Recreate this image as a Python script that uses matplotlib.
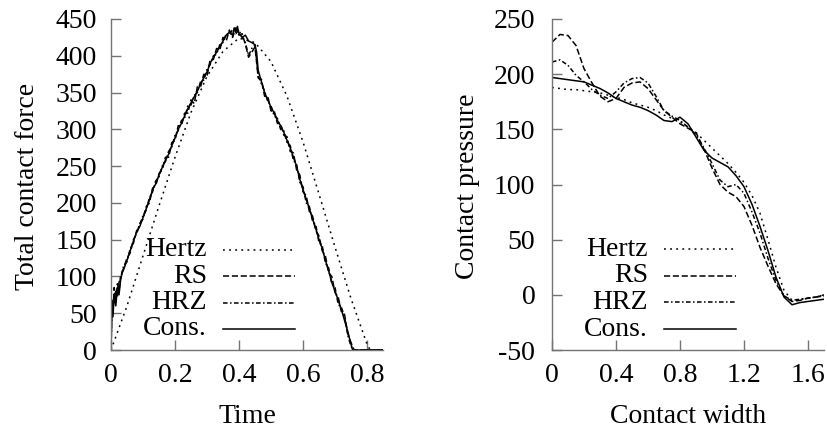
import matplotlib.pyplot as plt

plt.rcParams['font.family'] = ['Liberation Serif', 'DejaVu Serif']
plt.rcParams['font.size'] = 20
plt.rcParams['axes.unicode_minus'] = False
plt.rcParams['lines.dash_capstyle'] = 'butt'

# ---- left panel: total contact force vs time ----
hertzT = [0, 0.05, 0.1, 0.15, 0.2, 0.25, 0.3, 0.35, 0.4, 0.45, 0.5, 0.55,
          0.6, 0.65, 0.7, 0.75, 0.8, 0.81, 0.85]
hertzF = [0, 60, 128, 196, 262, 323, 372, 406, 424, 418, 392, 345,
          283, 212, 140, 70, 8, 0, 0]

consT = [0, 0.003, 0.006, 0.01, 0.015, 0.02, 0.025, 0.03, 0.035, 0.04, 0.05,
         0.06, 0.07, 0.08, 0.09, 0.10, 0.11, 0.12, 0.13, 0.14, 0.15, 0.16,
         0.17, 0.18, 0.19, 0.20, 0.21, 0.22, 0.23, 0.24, 0.25, 0.26, 0.27,
         0.28, 0.29, 0.30, 0.31, 0.32, 0.33, 0.34, 0.35, 0.36, 0.37, 0.38,
         0.385, 0.39, 0.395, 0.40, 0.41, 0.42, 0.43, 0.44, 0.45, 0.455, 0.46,
         0.47, 0.48, 0.49, 0.50, 0.51, 0.52, 0.53, 0.54, 0.55, 0.56, 0.57,
         0.58, 0.59, 0.60, 0.61, 0.62, 0.63, 0.64, 0.65, 0.66, 0.67, 0.68,
         0.69, 0.70, 0.71, 0.72, 0.73, 0.74, 0.75, 0.755, 0.85]
consF = [0, 60, 45, 75, 60, 85, 75, 95, 105, 110, 122,
         135, 148, 160, 168, 180, 192, 204, 218, 226, 238, 248,
         258, 266, 278, 288, 300, 308, 318, 328, 336, 344, 352,
         362, 370, 378, 390, 398, 405, 412, 420, 428, 432, 428,
         438, 432, 440, 430, 425, 428, 420, 418, 415, 405, 380,
         365, 350, 340, 330, 322, 312, 305, 296, 285, 275, 262,
         250, 232, 218, 205, 192, 178, 165, 150, 138, 122, 108,
         92, 80, 68, 55, 40, 25, 8, 0, 0]

rsT = [0, 0.003, 0.006, 0.01, 0.015, 0.02, 0.025, 0.03, 0.04, 0.05, 0.06,
       0.07, 0.08, 0.09, 0.10, 0.11, 0.12, 0.13, 0.14, 0.15, 0.16, 0.17,
       0.18, 0.19, 0.20, 0.21, 0.22, 0.23, 0.24, 0.25, 0.26, 0.27, 0.28,
       0.29, 0.30, 0.31, 0.32, 0.33, 0.34, 0.35, 0.36, 0.37, 0.38, 0.39,
       0.40, 0.41, 0.42, 0.43, 0.44, 0.45, 0.46, 0.47, 0.48, 0.49, 0.50,
       0.51, 0.52, 0.53, 0.54, 0.55, 0.56, 0.57, 0.58, 0.59, 0.60, 0.61,
       0.62, 0.63, 0.64, 0.65, 0.66, 0.67, 0.68, 0.69, 0.70, 0.71, 0.72,
       0.73, 0.74, 0.75, 0.76, 0.85]
rsF = [0, 70, 50, 85, 65, 90, 80, 100, 112, 125, 132,
       150, 158, 172, 178, 195, 200, 220, 224, 240, 245, 262,
       262, 282, 285, 305, 305, 322, 322, 340, 335, 358, 358,
       375, 372, 395, 395, 410, 408, 425, 420, 435, 425, 438,
       428, 430, 415, 398, 405, 412, 370, 368, 345, 345, 325,
       325, 308, 308, 292, 290, 270, 268, 245, 238, 215, 210,
       188, 182, 162, 155, 135, 128, 105, 100, 78, 72, 52,
       48, 22, 10, 0, 0]

hrzT = rsT
hrzF = [0, 55, 65, 70, 80, 72, 92, 98, 115, 120, 138,
        145, 162, 170, 183, 190, 207, 215, 230, 235, 250, 256,
        270, 276, 292, 298, 312, 315, 332, 333, 346, 350, 365,
        367, 382, 388, 400, 402, 415, 418, 430, 428, 436, 430,
        435, 425, 418, 400, 410, 415, 372, 362, 352, 338, 332,
        318, 315, 300, 298, 282, 278, 258, 252, 228, 222, 200,
        195, 175, 170, 146, 142, 118, 112, 90, 85, 62, 58,
        45, 20, 5, 0, 0]

# ---- right panel: contact pressure vs contact width ----
widthX = [0, 0.05, 0.1, 0.15, 0.2, 0.25, 0.3, 0.35, 0.4, 0.45, 0.5, 0.55,
          0.6, 0.65, 0.7, 0.75, 0.8, 0.85, 0.9, 0.95, 1.0, 1.05, 1.1, 1.15,
          1.2, 1.25, 1.3, 1.35, 1.4, 1.45, 1.5, 1.55, 1.6, 1.65, 1.7]
hertzP = [188, 187, 186, 186, 185, 184, 183, 181, 179, 177, 174, 172,
          170, 167, 163, 160, 157, 152, 147, 140, 133, 126, 119, 111,
          102, 90, 74, 50, 25, 4, -5, -4, -3, -2, 0]
rsP = [229, 236, 235, 226, 205, 192, 180, 175, 178, 188, 192, 193,
       187, 177, 167, 161, 155, 151, 147, 132, 115, 100, 93, 89,
       80, 63, 43, 26, 10, -1, -6, -5, -3, -2, 0]
hrzP = [211, 213, 208, 199, 193, 186, 181, 178, 184, 192, 196, 197,
        192, 180, 167, 162, 158, 152, 145, 133, 119, 104, 98, 100,
        92, 75, 56, 33, 13, -1, -5, -4, -3, -2, -1]
consP = [197, 196, 195, 194, 193, 190, 187, 183, 178, 175, 172, 170,
         167, 163, 158, 157, 161, 155, 143, 131, 124, 120, 116, 108,
         98, 82, 62, 40, 16, -2, -9, -7, -6, -5, -4]

labels = ['Hertz', 'RS', 'HRZ', 'Cons.']
styles = [(0, (1.2, 2.8)), (0, (4.0, 1.8)), (0, (3.0, 1.6, 1.0, 1.6)), '-']
axisColor = '0.45'
lineW = 1.1


def styleAxis(ax, pad):
    for side in ['top', 'right']:
        ax.spines[side].set_visible(False)
    for side in ['left', 'bottom']:
        ax.spines[side].set_color(axisColor)
        ax.spines[side].set_linewidth(1.0)
    ax.tick_params(direction='in', length=7, width=1.0, color=axisColor,
                   labelsize=20)
    ax.tick_params(axis='y', pad=pad)
    ax.tick_params(axis='x', pad=9)


def drawLegend(ax, xText, xLine0, xLine1, yTop, dy):
    # gnuplot style key: right aligned text, sample to the right
    for i, (ls, lab) in enumerate(zip(styles, labels)):
        y = yTop - i * dy
        ax.text(xText, y, lab, ha='right', va='center', fontsize=20,
                transform=ax.transAxes)
        ax.plot([xLine0, xLine1], [y, y], color='black', lw=lineW,
                linestyle=ls, transform=ax.transAxes)


fig = plt.figure(figsize=(8.27, 4.32), dpi=100)

ax1 = fig.add_axes([111 / 827, 1 - 350 / 432, 272 / 827, 331 / 432])
for t, f, ls in zip([hertzT, rsT, hrzT, consT], [hertzF, rsF, hrzF, consF], styles):
    ax1.plot(t, f, color='black', lw=lineW, linestyle=ls)
ax1.set_xlim(0, 0.85)
ax1.set_ylim(0, 450)
ax1.set_xticks([0, 0.2, 0.4, 0.6, 0.8])
ax1.set_xticklabels(['0', '0.2', '0.4', '0.6', '0.8'])
ax1.set_yticks(range(0, 451, 50))
styleAxis(ax1, 10)
ax1.set_xlabel('Time', fontsize=20, labelpad=12)
ax1.set_ylabel('Total contact force', fontsize=20)
ax1.yaxis.set_label_coords(-0.26, 0.495)
drawLegend(ax1, 96 / 272, 112 / 272, 184 / 272,
           (350 - 250) / 331, 26.3 / 331)

ax2 = fig.add_axes([552 / 827, 1 - 350 / 432, 272 / 827, 331 / 432])
for p, ls in zip([hertzP, rsP, hrzP, consP], styles):
    ax2.plot(widthX, p, color='black', lw=lineW, linestyle=ls)
ax2.set_xlim(0, 1.7)
ax2.set_ylim(-50, 250)
ax2.set_xticks([0, 0.4, 0.8, 1.2, 1.6])
ax2.set_xticklabels(['0', '0.4', '0.8', '1.2', '1.6'])
ax2.set_yticks(range(-50, 251, 50))
styleAxis(ax2, 12)
ax2.set_xlabel('Contact width', fontsize=20, labelpad=12)
ax2.set_ylabel('Contact pressure', fontsize=20)
ax2.yaxis.set_label_coords(-0.265, 0.495)
drawLegend(ax2, 96 / 272, 112 / 272, 184 / 272,
           (350 - 249) / 331, 26.7 / 331)

fig.savefig('out.png', dpi=100)
